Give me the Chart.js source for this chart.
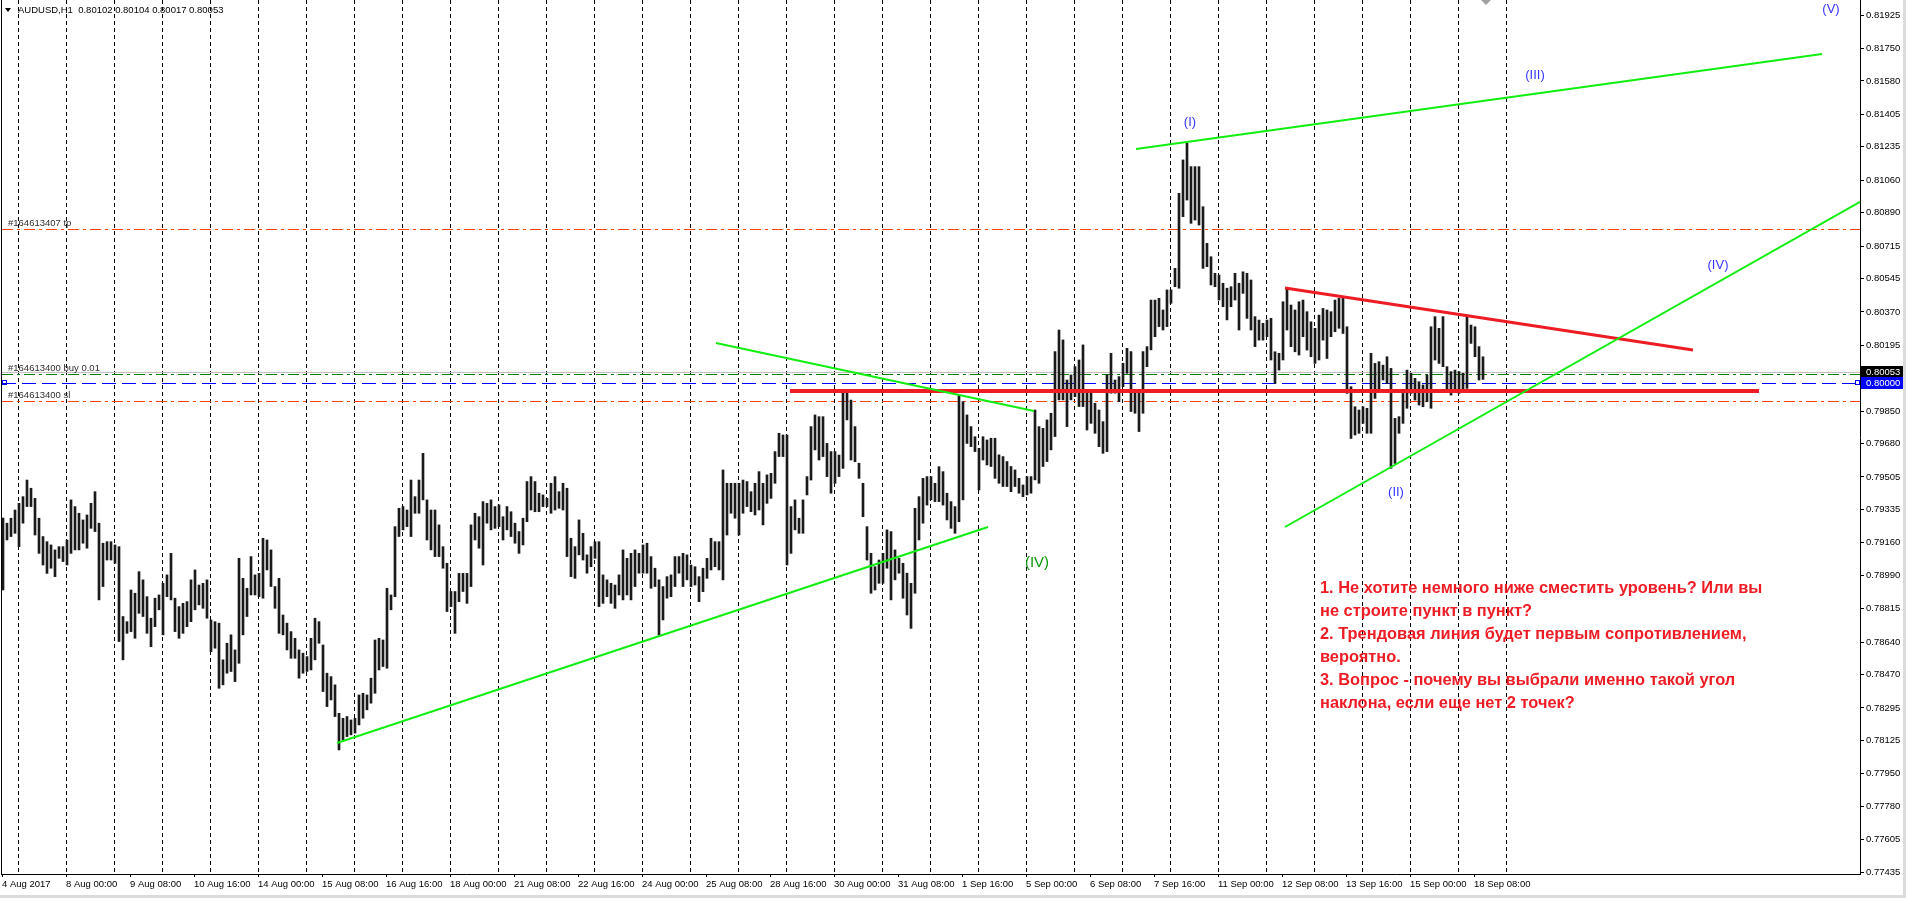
<!DOCTYPE html>
<html>
<head>
<meta charset="utf-8">
<script src="https://cdn.jsdelivr.net/npm/chart.js@4.4.1/dist/chart.umd.min.js"></script>
<style>
html, body { margin: 0; padding: 0; background: #fff; overflow: hidden; }
#wrap { width: 1906px; height: 898px; position: relative; }
</style>
</head>
<body>
<div id="wrap"><canvas id="chart" width="1906" height="898"></canvas></div>
<script>
// AUDUSD H1, every entry = two hourly bars (high / low)
const highs = [
	0.79290,0.79263,0.79289,0.79332,0.79367,0.79402,0.79489,0.79446,0.79393,0.79289,
	0.79193,0.79166,0.79149,0.79123,0.79140,0.79140,0.79175,0.79385,0.79350,0.79315,
	0.79280,0.79306,0.79367,0.79428,0.79263,0.79158,0.79166,0.79166,0.79149,0.79140,
	0.78774,0.78747,0.78913,0.78896,0.79009,0.78966,0.78878,0.78765,0.78870,0.78887,
	0.78948,0.78992,0.79105,0.78870,0.78826,0.78843,0.78852,0.78966,0.79018,0.78939,
	0.78948,0.78966,0.78756,0.78747,0.78739,0.78547,0.78634,0.78678,0.78599,0.79079,
	0.78974,0.78922,0.79088,0.78992,0.79000,0.79184,0.79175,0.79123,0.78931,0.78974,
	0.78782,0.78739,0.78695,0.78660,0.78599,0.78582,0.78564,0.78660,0.78765,0.78747,
	0.78625,0.78477,0.78459,0.78416,0.78267,0.78241,0.78250,0.78232,0.78241,0.78363,
	0.78372,0.78363,0.78451,0.78651,0.78660,0.78651,0.78922,0.78887,0.79245,0.79341,
	0.79350,0.79332,0.79489,0.79402,0.79489,0.79629,0.79385,0.79332,0.79332,0.79254,
	0.79140,0.79053,0.78905,0.78905,0.79000,0.79000,0.79000,0.79254,0.79315,0.79297,
	0.79376,0.79367,0.79385,0.79350,0.79359,
	0.79297,0.79350,0.79323,0.79263,0.79219,0.79289,0.79481,0.79507,0.79481,0.79420,
	0.79411,0.79393,0.79472,0.79507,0.79428,0.79472,0.79446,0.79184,0.79140,0.79280,
	0.79210,0.79097,0.79140,0.79166,0.79166,0.78992,0.78966,0.78948,0.78939,0.78992,
	0.79123,0.79079,0.79105,0.79123,0.79105,0.79149,0.79158,0.79088,0.79027,0.78966,
	0.78931,0.78983,0.78992,0.79088,0.79088,0.79105,0.79097,0.79044,0.79035,0.78983,
	0.79027,0.79079,0.79184,0.79166,0.79166,0.79542,0.79472,0.79472,0.79472,0.79472,
	0.79489,0.79481,0.79428,0.79472,0.79533,0.79472,0.79516,0.79524,0.79638,0.79734,
	0.79725,0.79725,0.79350,0.79385,0.79289,0.79385,0.79507,0.79769,0.79830,0.79821,
	0.79821,0.79681,0.79638,0.79638,0.79620,0.79952,0.79952,0.79908,0.79769,0.79577,
	0.79472,0.79245,0.79105,0.79035,0.79070,0.79105,0.79228,0.79219,0.79123,0.79079,
	0.79053,0.79001,0.78948,0.79341,0.79402,0.79498,0.79507,0.79507,0.79472,0.79559,
	0.79533,0.79420,0.79376,0.79350,0.79935,0.79900,0.79830,0.79769,0.79716,0.79655,
	0.79716,0.79699,
	0.79708,0.79708,0.79621,0.79612,0.79586,0.79560,0.79542,0.79498,0.79463,0.79507,
	0.79507,0.79856,0.79769,0.79760,0.79804,0.79839,0.80162,0.80275,0.80223,0.80013,
	0.80040,0.80083,0.80118,0.80197,0.79952,0.79944,0.79891,0.79856,0.79795,0.80040,
	0.80153,0.80013,0.80031,0.80101,0.80179,0.80162,0.79944,0.79944,0.80162,0.80188,
	0.80432,0.80432,0.80441,0.80380,0.80485,0.80485,0.80598,0.80991,0.81166,0.81253,
	0.81131,0.81131,0.81131,0.80921,0.80729,0.80659,0.80572,0.80563,0.80520,0.80494,
	0.80502,0.80572,0.80520,
	0.80580,0.80572,0.80537,0.80345,0.80327,0.80310,0.80327,0.80336,0.80161,0.80153,
	0.80423,0.80493,0.80406,0.80380,0.80423,0.80432,0.80371,0.80318,0.80284,0.80353,
	0.80388,0.80380,0.80371,0.80432,0.80441,0.80449,0.80292,0.79978,0.79873,0.79856,
	0.79873,0.79865,0.80153,0.80100,0.80109,0.80091,0.80135,0.80074,0.79812,0.79821,
	0.79943,0.80065,0.80048,0.80022,0.80004,0.79987,0.80039,0.80292,0.80345,0.80284,
	0.80345,0.80083,0.80057,0.80065,0.80057,0.80048,0.80353,0.80301,0.80292,0.80188,
	0.80135
]
const lows = [
	0.78913,0.79175,0.79193,0.79210,0.79140,0.79263,0.79350,0.79350,0.79201,0.79105,
	0.79044,0.79000,0.79027,0.78983,0.79079,0.79062,0.79044,0.79105,0.79123,0.79123,
	0.79158,0.79132,0.79236,0.79219,0.78861,0.78931,0.79070,0.79070,0.79053,0.78643,
	0.78547,0.78686,0.78695,0.78660,0.78791,0.78774,0.78686,0.78616,0.78721,0.78809,
	0.78678,0.78878,0.78861,0.78695,0.78660,0.78686,0.78721,0.78747,0.78809,0.78835,
	0.78817,0.78765,0.78590,0.78608,0.78398,0.78416,0.78477,0.78486,0.78433,0.78529,
	0.78678,0.78774,0.78887,0.78887,0.78878,0.78870,0.79018,0.78931,0.78817,0.78686,
	0.78678,0.78599,0.78555,0.78555,0.78451,0.78477,0.78486,0.78494,0.78547,0.78634,
	0.78381,0.78302,0.78337,0.78250,0.78075,0.78128,0.78145,0.78154,0.78163,0.78206,
	0.78241,0.78285,0.78320,0.78372,0.78494,0.78512,0.78503,0.78809,0.78878,0.79193,
	0.79228,0.79245,0.79193,0.79315,0.79315,0.79385,0.79175,0.79123,0.79088,0.79088,
	0.79027,0.78800,0.78826,0.78686,0.78852,0.78905,0.78843,0.78931,0.79175,0.79132,
	0.79044,0.79263,0.79228,0.79236,0.79245,
	0.79175,0.79228,0.79193,0.79158,0.79105,0.79149,0.79271,0.79332,0.79323,0.79323,
	0.79350,0.79350,0.79315,0.79332,0.79341,0.79332,0.79088,0.78983,0.78974,0.79097,
	0.79070,0.79001,0.79035,0.79079,0.78826,0.78843,0.78878,0.78843,0.78817,0.78887,
	0.78861,0.78887,0.78861,0.78931,0.79001,0.79001,0.79001,0.78922,0.78931,0.78677,
	0.78756,0.78870,0.78878,0.78931,0.79001,0.78931,0.78966,0.78931,0.78939,0.78852,
	0.78904,0.78974,0.79018,0.79035,0.79018,0.78966,0.79201,0.79315,0.79289,0.79201,
	0.79315,0.79350,0.79323,0.79306,0.79332,0.79254,0.79367,0.79393,0.79472,0.79612,
	0.79612,0.79044,0.79105,0.79228,0.79210,0.79210,0.79411,0.79489,0.79647,0.79594,
	0.79612,0.79507,0.79420,0.79472,0.79507,0.79550,0.79804,0.79594,0.79585,0.79498,
	0.79297,0.79070,0.78896,0.78913,0.78948,0.78948,0.79027,0.78861,0.78966,0.79001,
	0.78870,0.78782,0.78712,0.78896,0.79175,0.79263,0.79358,0.79385,0.79376,0.79376,
	0.79358,0.79280,0.79236,0.79210,0.79271,0.79385,0.79681,0.79664,0.79638,0.79437,
	0.79594,0.79568,
	0.79560,0.79498,0.79472,0.79455,0.79455,0.79428,0.79455,0.79420,0.79402,0.79411,
	0.79420,0.79490,0.79472,0.79560,0.79586,0.79647,0.79717,0.79909,0.79909,0.79769,
	0.79909,0.79926,0.79874,0.79874,0.79751,0.79786,0.79734,0.79664,0.79629,0.79638,
	0.79944,0.79944,0.79900,0.79978,0.80048,0.79848,0.79839,0.79743,0.79839,0.80083,
	0.80171,0.80240,0.80293,0.80275,0.80293,0.80415,0.80502,0.80494,0.80869,0.80956,
	0.80834,0.80851,0.80825,0.80598,0.80607,0.80511,0.80502,0.80432,0.80397,0.80328,
	0.80397,0.80432,0.80275,
	0.80467,0.80336,0.80275,0.80188,0.80222,0.80222,0.80240,0.80118,0.79995,0.80065,
	0.80118,0.80275,0.80188,0.80161,0.80144,0.80240,0.80170,0.80135,0.80100,0.80118,
	0.80222,0.80126,0.80240,0.80266,0.80284,0.80257,0.79943,0.79707,0.79725,0.79734,
	0.79786,0.79734,0.79734,0.79917,0.79961,0.80013,0.79995,0.79550,0.79576,0.79734,
	0.79786,0.79865,0.79943,0.79908,0.79882,0.79873,0.79899,0.79865,0.80118,0.80100,
	0.80083,0.79961,0.79934,0.79952,0.79943,0.79961,0.79969,0.80205,0.80135,0.80013,
	0.80016
]

const xLabels = ['4 Aug 2017', '8 Aug 00:00', '9 Aug 08:00', '10 Aug 16:00', '14 Aug 00:00',
	'15 Aug 08:00', '16 Aug 16:00', '18 Aug 00:00', '21 Aug 08:00', '22 Aug 16:00',
	'24 Aug 00:00', '25 Aug 08:00', '28 Aug 16:00', '30 Aug 00:00', '31 Aug 08:00',
	'1 Sep 16:00', '5 Sep 00:00', '6 Sep 08:00', '7 Sep 16:00', '11 Sep 00:00',
	'12 Sep 08:00', '13 Sep 16:00', '15 Sep 00:00', '18 Sep 08:00']
const yTicks = [0.81925, 0.81750, 0.81580, 0.81405, 0.81235, 0.81060, 0.80890, 0.80715,
	0.80545, 0.80370, 0.80195, 0.80025, 0.79850, 0.79680, 0.79505, 0.79335, 0.79160,
	0.78990, 0.78815, 0.78640, 0.78470, 0.78295, 0.78125, 0.77950, 0.77780, 0.77605, 0.77435]

const lastBar = [0.80102, 0.80104, 0.80017, 0.80053] // O H L C
const tpPrice = 0.80804
const slPrice = 0.79903
const openPrice = 0.80045
const entryPrice = 0.80000

// trend lines: [bar index, price] pairs
const greenLines = [
	[[83.5, 0.78111], [246.25, 0.79243]],
	[[178.25, 0.80207], [257.75, 0.79851]],
	[[283.25, 0.81223], [454.75, 0.81721]],
	[[320.5, 0.79243], [464.25, 0.80946]]
]
const redSlope = [[320.5, 0.80495], [422.5, 0.80170]]
const redLevel = [[196.75, 0.79956], [439, 0.79956]]

const waveText = ['(I)', '(II)', '(III)', '(IV)', '(V)', '(IV)']
const waveX = [296.75, 348.25, 383, 428.75, 457, 258.5]
const waveY = [0.81360, 0.79426, 0.81611, 0.80616, 0.81957, 0.79054]

const noteLines = [
	'1. Не хотите немного ниже сместить уровень? Или вы',
	'не строите пункт в пункт?',
	'2. Трендовая линия будет первым сопротивлением,',
	'вероятно.',
	'3. Вопрос - почему вы выбрали именно такой угол',
	'наклона, если еще нет 2 точек?'
]
const noteAt = [329.25, 0.78923]

const TAHOMA = '"Liberation Sans", "DejaVu Sans", sans-serif'

const overlay = {
	id: 'overlay',
	beforeDatasetsDraw(chart) {
		const { ctx, chartArea: a, scales: { x, y } } = chart
		ctx.save()
		ctx.beginPath()
		ctx.rect(a.left, a.top, a.right - a.left, a.bottom - a.top)
		ctx.clip()
		ctx.lineWidth = 1
		ctx.strokeStyle = '#000'
		ctx.setLineDash([4, 3])
		for (let k = 0; k < 32; k++) {
			const px = Math.round(x.getPixelForValue(3.75 + 12 * k)) + 0.5
			ctx.beginPath()
			ctx.moveTo(px, a.top)
			ctx.lineTo(px, a.bottom)
			ctx.stroke()
		}
		const hline = (p, color, dash) => {
			const py = Math.round(y.getPixelForValue(p)) + 0.5
			ctx.strokeStyle = color
			ctx.setLineDash(dash)
			ctx.beginPath()
			ctx.moveTo(a.left, py)
			ctx.lineTo(a.right, py)
			ctx.stroke()
		}
		hline(tpPrice, '#ff4500', [11, 4, 3, 4])
		hline(slPrice, '#ff4500', [11, 4, 3, 4])
		hline(lastBar[3], '#c0c0c0', [])
		hline(openPrice, '#008000', [11, 4, 3, 4])
		hline(entryPrice, '#0000ff', [14, 6])
		ctx.restore()
	},
	afterDraw(chart) {
		const { ctx, chartArea: a, scales: { x, y } } = chart
		ctx.save()
		// left frame + window edge
		ctx.fillStyle = '#000'
		ctx.fillRect(1, 0, 1, a.bottom + 1)
		ctx.fillStyle = '#dcdcdc'
		ctx.fillRect(1903, 0, 3, 898)
		ctx.fillRect(0, 895, 1906, 3)

		// header
		ctx.fillStyle = '#000'
		ctx.beginPath()
		ctx.moveTo(5, 8); ctx.lineTo(11, 8); ctx.lineTo(8, 12); ctx.closePath()
		ctx.fill()
		ctx.font = '9.5px ' + TAHOMA
		ctx.textBaseline = 'middle'
		ctx.textAlign = 'left'
		ctx.fillText('AUDUSD,H1  ' + lastBar.map(v => v.toFixed(5)).join(' '), 18, 10)

		// shift marker
		ctx.fillStyle = '#a0a0a0'
		ctx.beginPath()
		ctx.moveTo(1481, 0); ctx.lineTo(1491, 0); ctx.lineTo(1486, 5); ctx.closePath()
		ctx.fill()

		// order labels
		ctx.fillStyle = '#303030'
		ctx.textBaseline = 'bottom'
		ctx.fillText('#164613407 tp', 8, Math.round(y.getPixelForValue(tpPrice)) - 1)
		ctx.fillText('#164613400 buy 0.01', 8, Math.round(y.getPixelForValue(openPrice)) - 1)
		ctx.fillText('#164613400 sl', 8, Math.round(y.getPixelForValue(slPrice)) - 1)

		// entry markers
		const ye = Math.round(y.getPixelForValue(entryPrice))
		ctx.strokeStyle = '#0000ff'
		ctx.lineWidth = 1
		ctx.strokeRect(2.5, ye - 2.5, 4, 4)
		ctx.strokeRect(1855.5, ye - 2.5, 4, 4)

		// wave labels
		ctx.textAlign = 'center'
		ctx.textBaseline = 'middle'
		waveText.forEach((t, i) => {
			const green = i === 5
			ctx.font = (green ? '15px ' : '13px ') + TAHOMA
			ctx.fillStyle = green ? '#0a9a0a' : '#3535ff'
			ctx.fillText(t, x.getPixelForValue(waveX[i]), y.getPixelForValue(waveY[i]))
		})

		// comment block
		ctx.textAlign = 'left'
		ctx.font = 'bold 16.4px ' + TAHOMA
		ctx.fillStyle = '#ee1c24'
		const nx = x.getPixelForValue(noteAt[0])
		const ny = y.getPixelForValue(noteAt[1])
		noteLines.forEach((t, i) => ctx.fillText(t, nx, ny + i * 23))

		// price boxes on the axis
		const yb = Math.round(y.getPixelForValue(lastBar[3]))
		ctx.font = '9.5px ' + TAHOMA
		ctx.fillStyle = '#000'
		ctx.fillRect(1861, yb - 6, 42, 11)
		ctx.fillStyle = '#fff'
		ctx.fillText(lastBar[3].toFixed(5), 1866, yb)
		ctx.fillStyle = '#0000ff'
		ctx.fillRect(1861, ye - 6, 42, 12)
		ctx.fillStyle = '#fff'
		ctx.fillText(entryPrice.toFixed(5), 1866, ye)
		ctx.restore()
	}
}

const lineSet = (seg, color, width) => ({
	type: 'line',
	data: seg.map(([px, py]) => ({ x: px, y: py })),
	borderColor: color,
	borderWidth: width,
	pointRadius: 0,
	fill: false,
	order: 1
})

const chart = new Chart(document.getElementById('chart'), {
	type: 'bar',
	data: {
		datasets: [
			{
				type: 'bar',
				data: highs.map((h, i) => ({ x: i, y: [lows[i], h] })),
				backgroundColor: '#1a1a1a',
				borderWidth: 0,
				barThickness: 2,
				grouped: false,
				order: 2
			},
			...greenLines.map(seg => lineSet(seg, '#11ee11', 2)),
			lineSet(redSlope, '#ee1c24', 3),
			lineSet(redLevel, '#ee1c24', 4)
		]
	},
	options: {
		responsive: false,
		devicePixelRatio: 1,
		animation: false,
		events: [],
		layout: { padding: { left: 2, right: 0, top: 0, bottom: 0 } },
		plugins: { legend: { display: false }, tooltip: { enabled: false } },
		scales: {
			x: {
				type: 'linear',
				position: 'bottom',
				offset: false,
				min: -0.25,
				max: 464.25,
				afterBuildTicks: s => { s.ticks = xLabels.map((_, i) => ({ value: i * 16 - 0.25 })) },
				afterFit: s => { s.height = 24; s.paddingLeft = 0; s.paddingRight = 0 },
				ticks: {
					autoSkip: false,
					maxRotation: 0,
					align: 'start',
					padding: 2,
					color: '#000',
					font: { family: TAHOMA, size: 9.5 },
					callback: (v, i) => xLabels[i]
				},
				grid: { offset: false, drawOnChartArea: false, drawTicks: true, tickLength: 3, color: '#000' },
				border: { display: true, color: '#000' }
			},
			y: {
				type: 'linear',
				position: 'right',
				min: 0.77425,
				max: 0.82004,
				afterBuildTicks: s => { s.ticks = yTicks.map(v => ({ value: v })) },
				afterFit: s => { s.width = 46; s.paddingTop = 0; s.paddingBottom = 0 },
				ticks: {
					autoSkip: false,
					padding: 2,
					color: '#000',
					font: { family: TAHOMA, size: 9.5 },
					callback: v => v.toFixed(5)
				},
				grid: { drawOnChartArea: false, drawTicks: true, tickLength: 4, color: '#000' },
				border: { display: true, color: '#000' }
			}
		}
	},
	plugins: [overlay]
})
</script>
</body>
</html>
